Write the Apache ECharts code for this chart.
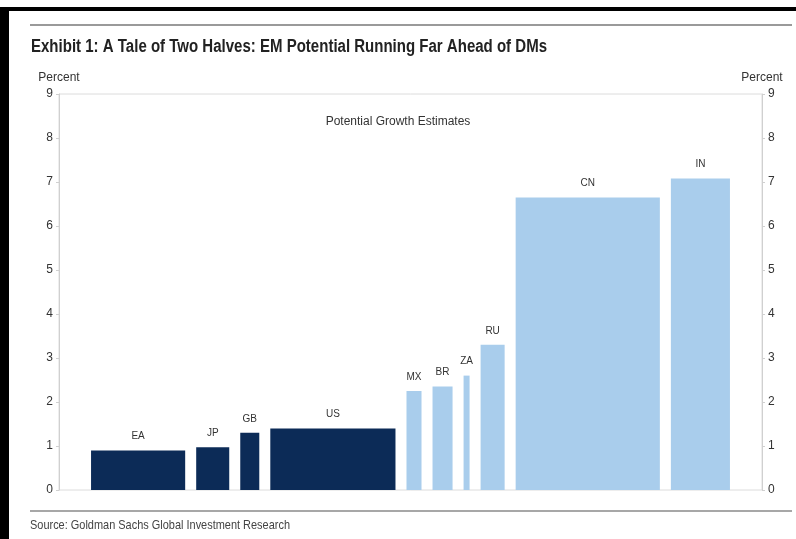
<!DOCTYPE html>
<html>
<head>
<meta charset="utf-8">
<script src="https://cdn.jsdelivr.net/npm/echarts@6/dist/echarts.min.js"></script>
<style>
html,body{margin:0;padding:0;background:#fff;}
#chart{width:796px;height:539px;}
</style>
</head>
<body>
<div id="chart"></div>
<script>
// potential growth estimates, bar width ~ size of economy
var countries=['EA','JP','GB','US','MX','BR','ZA','RU','CN','IN'];
var growth=[0.9,0.97,1.3,1.4,2.25,2.35,2.6,3.3,6.65,7.08];
var weights=[94,33,19,125,15,20,6,24,144,59];
var groups=['DM','DM','DM','DM','EM','EM','EM','EM','EM','EM'];
var yTicks=[0,9,1];

var titleText='Exhibit 1: A Tale of Two Halves: EM Potential Running Far Ahead of DMs';
var sourceText='Source: Goldman Sachs Global Investment Research';

var colors={DM:'#0c2b57',EM:'#a9cdec'};
var edge=32,gap=11;

// cumulative positions for the variable width bars
var barData=[];
var pos=edge;
for(var i=0;i<countries.length;i++){
	barData.push([pos,pos+weights[i],growth[i],countries[i],groups[i]]);
	pos+=weights[i];
	if(i<countries.length-1) pos+=gap;
}
var xMax=pos+edge;

// no narrow font installed: squeeze text horizontally to the width in the picture
var ctx=document.createElement('canvas').getContext('2d');
function squeeze(text,font,target){
	ctx.font=font;
	return target/ctx.measureText(text).width;
}
var titleFont='bold 18px "Liberation Sans"';
var sourceFont='13px "Liberation Sans"';

var chart=echarts.init(document.getElementById('chart'));

var axisCommon={
	type:'value',
	min:yTicks[0],
	max:yTicks[1],
	interval:yTicks[2],
	name:'Percent',
	nameLocation:'end',
	nameGap:10,
	nameTextStyle:{color:'#333',fontSize:12,fontFamily:'Liberation Sans'},
	axisLine:{show:true,lineStyle:{color:'#d0d0d0'}},
	axisTick:{show:true,length:3,lineStyle:{color:'#d0d0d0'}},
	axisLabel:{color:'#333',fontSize:12,fontFamily:'Liberation Sans',margin:6},
	splitLine:{show:false}
};

var option={
	backgroundColor:'#ffffff',
	animation:false,
	title:{
		text:'Potential Growth Estimates',
		left:'center',top:111,
		textStyle:{fontFamily:'Liberation Sans',fontWeight:'normal',fontSize:12,color:'#333'}
	},
	grid:{left:59,right:34,top:94,bottom:49,show:true,borderColor:'#dcdcdc',borderWidth:1},
	xAxis:{type:'value',min:0,max:xMax,show:false},
	yAxis:[
		Object.assign({},axisCommon,{position:'left'}),
		Object.assign({},axisCommon,{position:'right'})
	],
	series:[
		{
			type:'custom',
			data:barData,
			renderItem:function(params,api){
				var p0=api.coord([api.value(0),api.value(2)]);
				var p1=api.coord([api.value(1),0]);
				var grp=barData[params.dataIndex][4];
				return {
					type:'group',
					children:[
						{
							type:'rect',
							shape:{x:p0[0],y:p0[1],width:p1[0]-p0[0],height:p1[1]-p0[1]},
							style:{fill:colors[grp]}
						},
						{
							type:'text',
							x:(p0[0]+p1[0])/2,
							y:p0[1]-14,
							style:{
								text:barData[params.dataIndex][3],
								fill:'#333',
								fontSize:10,
								fontFamily:'Liberation Sans',
								align:'center',
								verticalAlign:'middle'
							}
						}
					]
				};
			}
		}
	],
	graphic:[
		{type:'rect',shape:{x:0,y:7,width:796,height:4},style:{fill:'#000'}},
		{type:'rect',shape:{x:0,y:7,width:9,height:532},style:{fill:'#000'}},
		{type:'line',shape:{x1:30,y1:25,x2:792,y2:25},style:{stroke:'#9a9a9a',lineWidth:2}},
		{type:'line',shape:{x1:30,y1:511,x2:792,y2:511},style:{stroke:'#8a8a8a',lineWidth:1.5}},
		{
			type:'text',x:31,y:47,scaleX:squeeze(titleText,titleFont,516),
			style:{text:titleText,font:titleFont,fill:'#222',verticalAlign:'middle'}
		},
		{
			type:'text',x:30,y:525,scaleX:squeeze(sourceText,sourceFont,260),
			style:{text:sourceText,font:sourceFont,fill:'#444',verticalAlign:'middle'}
		}
	]
};
chart.setOption(option);
</script>
</body>
</html>
